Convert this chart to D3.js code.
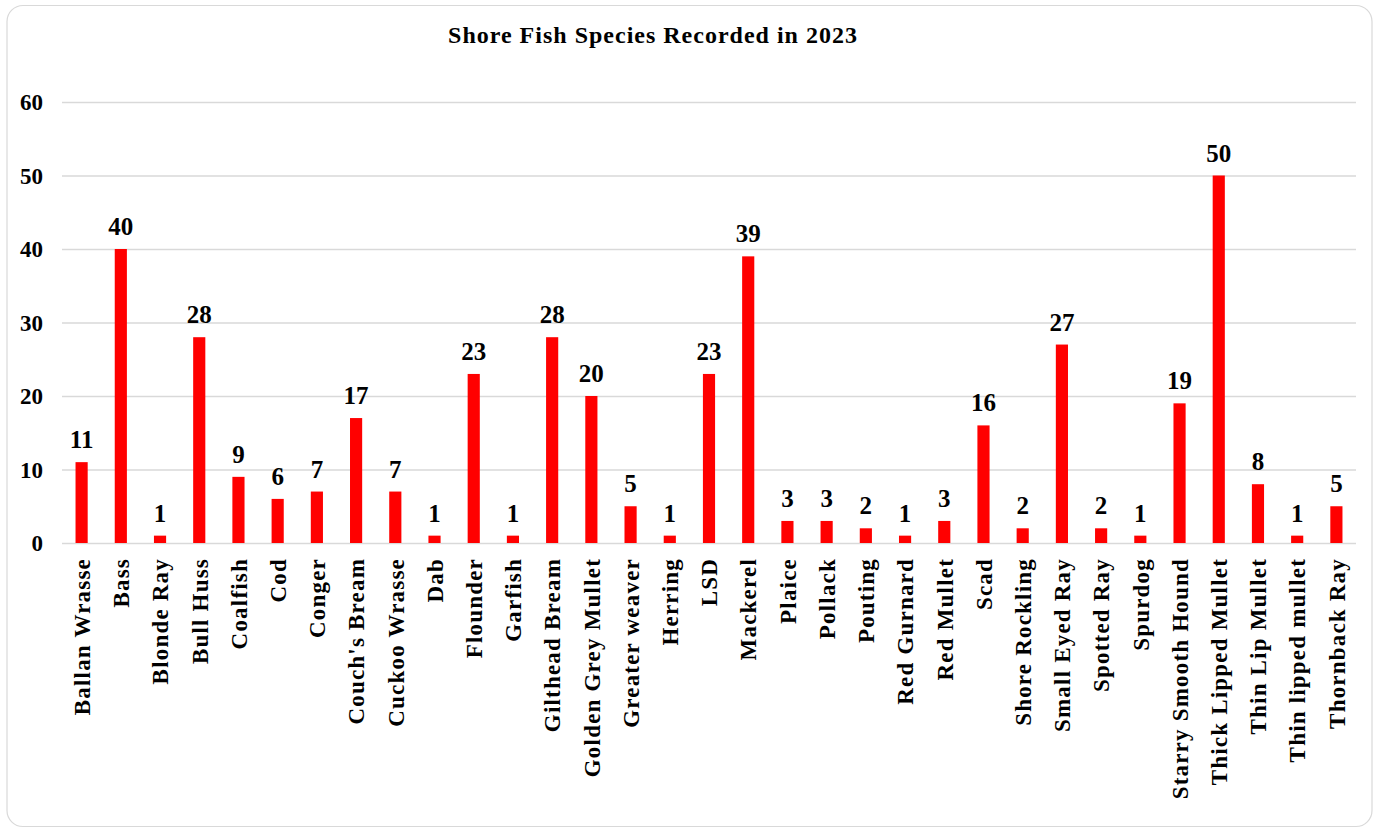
<!DOCTYPE html>
<html><head><meta charset="utf-8">
<script src="https://cdn.jsdelivr.net/npm/d3@7"></script>
<style>
html,body{margin:0;padding:0;background:#fff;}
svg{display:block;}
text{font-family:"Palatino Linotype","Book Antiqua",Palatino,"Liberation Serif",serif;font-weight:bold;fill:#000;}
</style></head>
<body>
<script>
const categories = ["Ballan Wrasse","Bass","Blonde Ray","Bull Huss","Coalfish","Cod","Conger","Couch's Bream","Cuckoo Wrasse","Dab","Flounder","Garfish","Gilthead Bream","Golden Grey Mullet","Greater weaver","Herring","LSD","Mackerel","Plaice","Pollack","Pouting","Red Gurnard","Red Mullet","Scad","Shore Rockling","Small Eyed Ray","Spotted Ray","Spurdog","Starry Smooth Hound","Thick Lipped Mullet","Thin Lip Mullet","Thin lipped mullet","Thornback Ray"];
const counts = [11,40,1,28,9,6,7,17,7,1,23,1,28,20,5,1,23,39,3,3,2,1,3,16,2,27,2,1,19,50,8,1,5];
const yTicks = [0,10,20,30,40,50,60];
const title = "Shore Fish Species Recorded in 2023";

const W = 1378, H = 829;
const m = {left:62, right:22, top:102, bottom:286};
const svg = d3.select("body").append("svg").attr("width",W).attr("height",H);

svg.append("rect").attr("x",7).attr("y",5.5).attr("width",1365).attr("height",821)
  .attr("rx",16).attr("fill","#fff").attr("stroke","#d9d9d9").attr("stroke-width",1.2);

const x = d3.scaleBand().domain(categories).range([m.left, W-m.right]).paddingInner(0.69).paddingOuter(0.345);
const y = d3.scaleLinear().domain([0,60]).range([H-m.bottom, m.top]);

// gridlines
const yAxis = d3.axisLeft(y).tickValues(yTicks).tickSize(-(W-m.right-m.left)).tickPadding(8).tickFormat(d3.format("d"));
const gy = svg.append("g").attr("transform",`translate(${m.left},0)`).call(yAxis);
gy.select(".domain").remove();
gy.selectAll(".tick line").attr("stroke","#d9d9d9").attr("stroke-width",1.3);
gy.selectAll(".tick text").attr("font-size",23).attr("x",-19).attr("dy","0.34em");

// bars
svg.append("g").selectAll("rect").data(counts).join("rect")
  .attr("x",(d,i)=>x(categories[i])).attr("width",x.bandwidth())
  .attr("y",d=>y(d)).attr("height",d=>y(0)-y(d)).attr("fill","#ff0000");

// value labels
svg.append("g").selectAll("text").data(counts).join("text")
  .attr("x",(d,i)=>x(categories[i])+x.bandwidth()/2).attr("y",d=>y(d)-14)
  .attr("text-anchor","middle").attr("font-size",25).text(d=>d);

// x axis labels
const xAxis = d3.axisBottom(x).tickSize(0).tickPadding(0);
const gx = svg.append("g").attr("transform",`translate(0,${y(0)})`).call(xAxis);
gx.select(".domain").remove();
gx.selectAll(".tick text").attr("font-size",23).attr("letter-spacing","1.2px")
  .attr("transform","rotate(-90)").attr("text-anchor","end")
  .attr("x",-15).attr("y",0).attr("dy","0.36em");

svg.append("text").attr("x",653).attr("y",43).attr("text-anchor","middle")
  .attr("font-size",24).attr("letter-spacing","1px").text(title);
</script>
</body></html>
